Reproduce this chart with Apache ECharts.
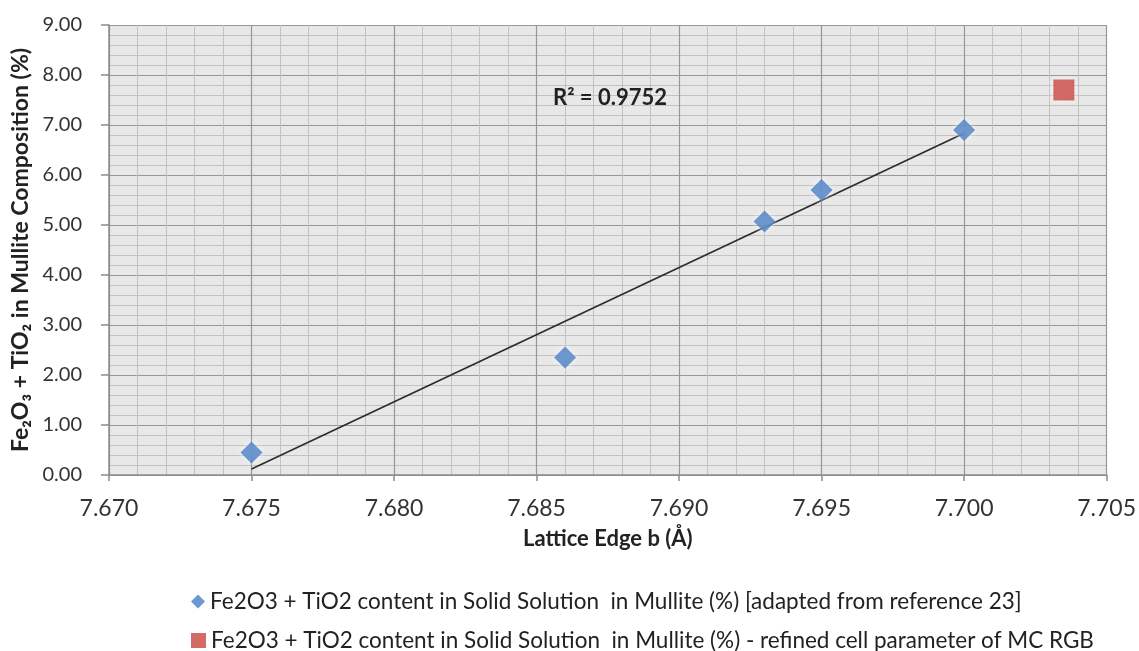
<!DOCTYPE html>
<html>
<head>
<meta charset="utf-8">
<script src="https://cdn.jsdelivr.net/npm/echarts@6/dist/echarts.min.js"></script>
<style>
html,body{margin:0;padding:0;background:#fff;}
#c{width:1139px;height:651px;}
</style>
</head>
<body>
<div id="c"></div>
<script>
// ---- data ----
const latticeB = [7.675, 7.686, 7.693, 7.695, 7.700];
const feTiContent = [0.45, 2.35, 5.07, 5.70, 6.90];
const refinedB = [7.7035];
const refinedContent = [7.70];
const trendRangeX = [7.675, 7.700];
const xTicks = { min: 7.670, max: 7.705, step: 0.005 };
const yTicks = { min: 0, max: 9, step: 1 };
const seriesNames = [
  'Fe2O3 + TiO2 content in Solid Solution  in Mullite (%) [adapted from reference 23]',
  'Fe2O3 + TiO2 content in Solid Solution  in Mullite (%) - refined cell parameter of MC RGB'
];
const rSquaredText = 'R² = 0.9752';
const xTitle = 'Lattice Edge b (Å)';
const yTitle = 'Fe₂O₃ + TiO₂ in Mullite Composition (%)';

// least-squares linear trendline from the blue series
function linFit(xs, ys) {
  const n = xs.length;
  const mx = xs.reduce((a, b) => a + b, 0) / n;
  const my = ys.reduce((a, b) => a + b, 0) / n;
  let sxy = 0, sxx = 0;
  for (let i = 0; i < n; i++) { sxy += (xs[i] - mx) * (ys[i] - my); sxx += (xs[i] - mx) ** 2; }
  const k = sxy / sxx;
  return x => my + k * (x - mx);
}
const fit = linFit(latticeB, feTiContent);
const trendData = trendRangeX.map(x => [x, fit(x)]);

const FONT = 'Lato, "Open Sans", sans-serif';
const legendText = { fontFamily: FONT, fontSize: 22.5, color: '#222' };
const chart = echarts.init(document.getElementById('c'), null, { renderer: 'canvas' });
chart.setOption({
  animation: false,
  backgroundColor: '#ffffff',
  grid: {
    left: 109, right: 29, top: 25, bottom: 176,
    show: true, backgroundColor: '#e8e8e8', borderWidth: 0
  },
  xAxis: {
    type: 'value',
    min: xTicks.min, max: xTicks.max, interval: xTicks.step,
    name: xTitle, nameLocation: 'middle', nameGap: 53, nameMoveOverlap: false,
    nameTextStyle: { fontFamily: FONT, fontWeight: 'bold', fontSize: 22, color: '#222' },
    axisLine: { show: true, onZero: false, lineStyle: { color: '#8c8c8c', width: 1.5 } },
    axisTick: { show: true, length: 6, lineStyle: { color: '#8c8c8c', width: 1.5 } },
    axisLabel: { fontFamily: FONT, fontSize: 23, color: '#333', margin: 22,
      formatter: v => v.toFixed(3) },
    splitLine: { show: true, lineStyle: { color: '#979797', width: 1.2 } },
    minorTick: { show: false, splitNumber: 5 },
    minorSplitLine: { show: true, lineStyle: { color: '#c2c2c2', width: 1 } }
  },
  yAxis: {
    type: 'value',
    min: yTicks.min, max: yTicks.max, interval: yTicks.step,
    name: yTitle, nameLocation: 'middle', nameGap: 77, nameMoveOverlap: false,
    nameTextStyle: { fontFamily: FONT, fontWeight: 'bold', fontSize: 23, color: '#222' },
    axisLine: { show: true, lineStyle: { color: '#8c8c8c', width: 1.5 } },
    axisTick: { show: true, length: 8, lineStyle: { color: '#8c8c8c', width: 1.5 } },
    axisLabel: { fontFamily: FONT, fontSize: 20, color: '#333', margin: 27,
      formatter: v => v.toFixed(2) },
    splitLine: { show: true, lineStyle: { color: '#979797', width: 1.2 } },
    minorTick: { show: false, splitNumber: 5 },
    minorSplitLine: { show: true, lineStyle: { color: '#c2c2c2', width: 1 } }
  },
  legend: [
    {
      left: 186, top: 585, itemWidth: 14, itemHeight: 14, textStyle: legendText,
      data: [{ name: seriesNames[0], icon: 'diamond' }]
    },
    {
      left: 186, top: 624, itemWidth: 15, itemHeight: 15, textStyle: legendText,
      data: [{ name: seriesNames[1], icon: 'rect' }]
    }
  ],
  series: [
    {
      name: 'trend', type: 'line', data: trendData, symbol: 'none',
      lineStyle: { color: '#2b2b2b', width: 1.6 }, z: 3, silent: true
    },
    {
      name: seriesNames[0], type: 'scatter', symbol: 'diamond', symbolSize: 22,
      data: latticeB.map((x, i) => [x, feTiContent[i]]),
      itemStyle: { color: '#4a7fc4', shadowColor: 'rgba(255,255,255,0.9)', shadowBlur: 6 }, z: 4
    },
    {
      name: seriesNames[1], type: 'scatter', symbol: 'rect', symbolSize: 21,
      data: refinedB.map((x, i) => [x, refinedContent[i]]),
      itemStyle: { color: '#c8453f', shadowColor: 'rgba(255,255,255,0.9)', shadowBlur: 6 }, z: 4
    }
  ],
  graphic: [
    {
      type: 'text', left: 553, top: 87, z: 10,
      style: { text: rSquaredText, fontFamily: FONT, fontWeight: 'bold', fontSize: 22, fill: '#222' }
    }
  ]
});
</script>
</body>
</html>
